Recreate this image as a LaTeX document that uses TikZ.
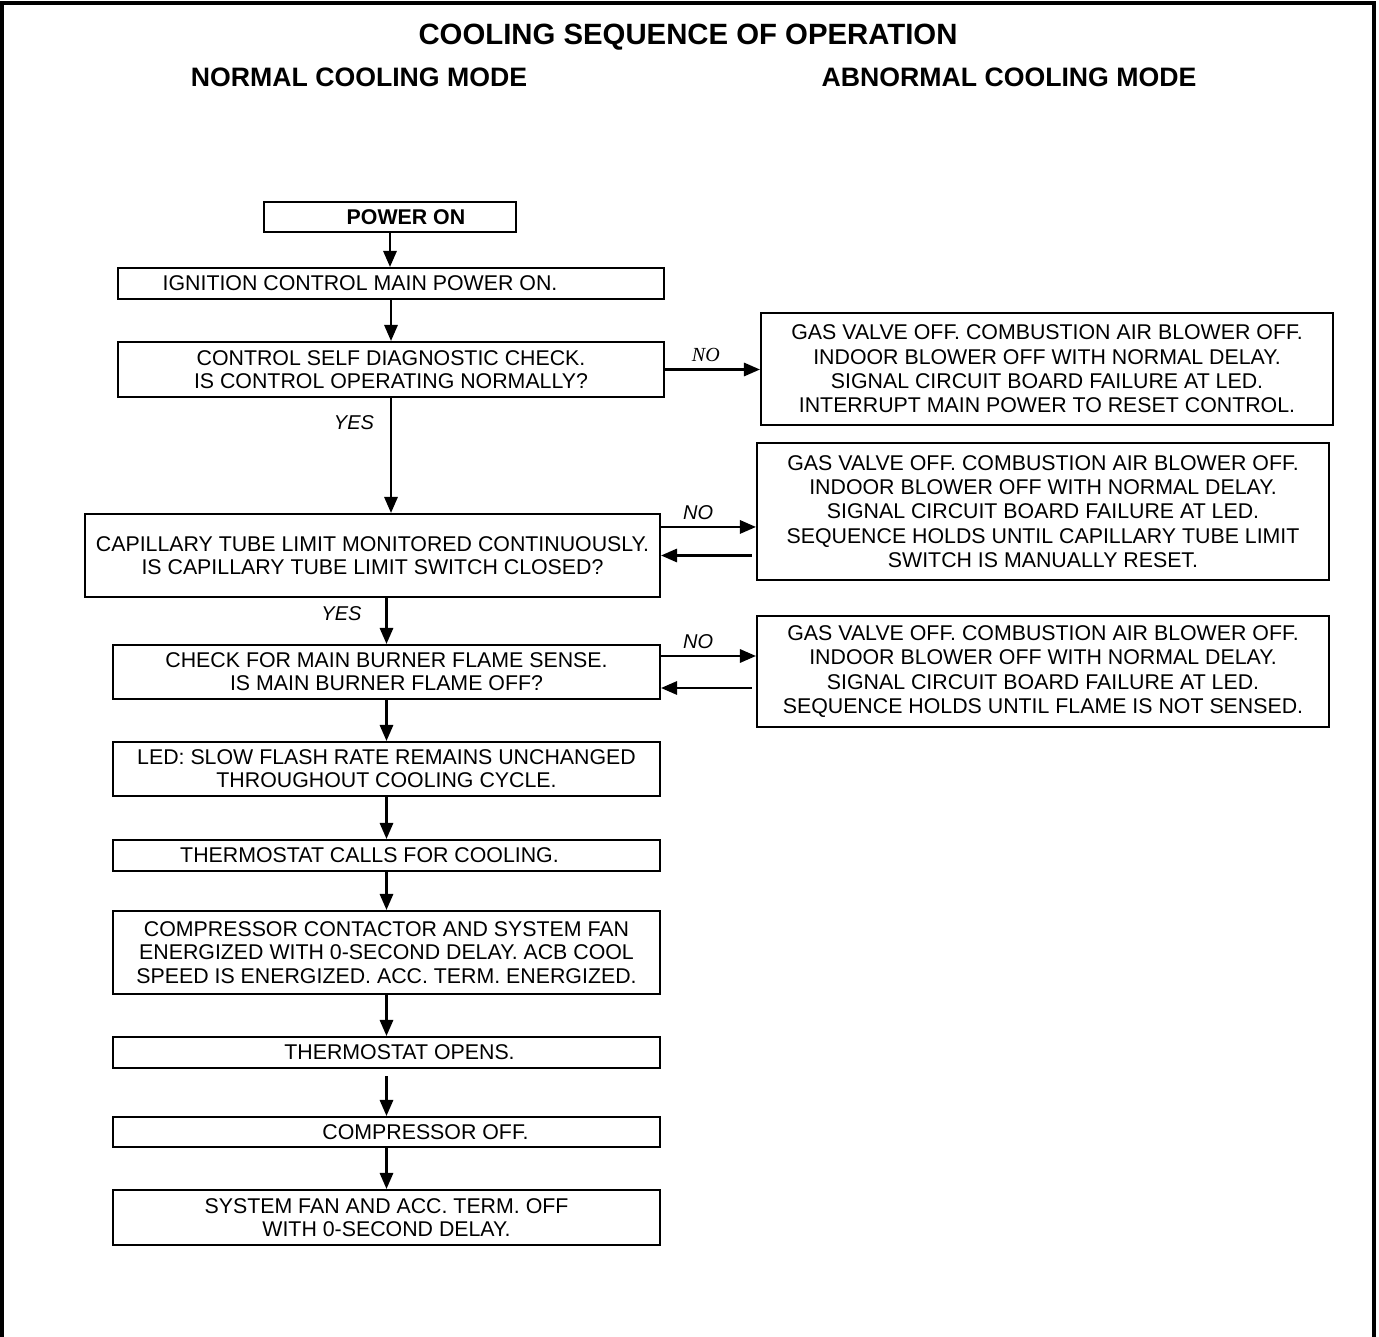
\documentclass[tikz,border=0pt]{standalone}
\usepackage{fontspec}
\setmainfont{Liberation Sans}
\newfontfamily\timesfont{Liberation Serif}
\usepackage{tikz}
\usetikzlibrary{arrows.meta, positioning}
\newcommand{\lpad}[1]{\makebox[#1]{}}

\begin{document}
\begin{tikzpicture}[x=0.75pt, y=-0.75pt,
        block/.style={rectangle, draw, line width=1.6pt, inner sep=0pt,
                      align=center, font=\fontsize{16}{17.4}\selectfont},
        stage/.style={block, minimum width=410.25pt},
        fail/.style={block, minimum width=429pt,
                     font=\fontsize{16}{18.2}\selectfont},
        head/.style={anchor=base, font=\bfseries\fontsize{20}{24}\selectfont},
        lbl/.style={inner sep=2pt, font=\itshape\fontsize{15}{18}\selectfont},
        arr/.style={-{Triangle[length=12pt, width=10pt]}, line width=1.6pt}
    ]
    \useasboundingbox (0,0) rectangle (1379,1337);
    \draw[line width=3pt] (2,1345) -- (2,3) -- (1374,3) -- (1374,1345);

    \node[head, font=\bfseries\fontsize{22}{26}\selectfont] (title) at (688,45) {COOLING SEQUENCE OF OPERATION};
    \node[head] (normal) at (359,87) {NORMAL COOLING MODE};
    \node[head] (abnormal) at (1009,87) {ABNORMAL COOLING MODE};

    % normal cooling mode
    \node[block, minimum width=189pt, minimum height=22.5pt,
          font=\bfseries\fontsize{16}{17.4}\selectfont] (power) at (390,217) {\lpad{24pt}POWER ON};
    \node[block, minimum width=409.5pt, minimum height=23.25pt] (ign) at (391,283.5) {IGNITION CONTROL MAIN POWER ON.\lpad{46.5pt}};
    \node[block, minimum width=409.5pt, minimum height=41.25pt] (ctrl) at (391,369.5) {CONTROL SELF DIAGNOSTIC CHECK.\\IS CONTROL OPERATING NORMALLY?};
    \node[block, minimum width=431.25pt, minimum height=62.25pt] (cap) at (372.5,555.5) {CAPILLARY TUBE LIMIT MONITORED CONTINUOUSLY.\\IS CAPILLARY TUBE LIMIT SWITCH CLOSED?};
    \node[stage, minimum height=40.5pt] (check) at (386.5,672) {CHECK FOR MAIN BURNER FLAME SENSE.\\IS MAIN BURNER FLAME OFF?};
    \node[stage, minimum height=40.5pt] (led) at (386.5,769) {LED: SLOW FLASH RATE REMAINS UNCHANGED\\THROUGHOUT COOLING CYCLE.};
    \node[stage, minimum height=23.25pt] (therm) at (386.5,855.5) {THERMOSTAT CALLS FOR COOLING.\lpad{25.5pt}};
    \node[stage, minimum height=62.25pt] (comp) at (386.5,952.5) {COMPRESSOR CONTACTOR AND SYSTEM FAN\\ENERGIZED WITH 0-SECOND DELAY. ACB COOL\\SPEED IS ENERGIZED. ACC. TERM. ENERGIZED.};
    \node[stage, minimum height=23.25pt] (opens) at (386.5,1052.5) {\lpad{19.5pt}THERMOSTAT OPENS.};
    \node[stage, minimum height=22.5pt] (off) at (386.5,1132) {\lpad{58.5pt}COMPRESSOR OFF.};
    \node[stage, minimum height=41.25pt] (sys) at (386.5,1217.5) {SYSTEM FAN AND ACC. TERM. OFF\\WITH 0-SECOND DELAY.};

    % abnormal cooling mode
    \node[fail, minimum height=84pt] (fail1) at (1047,369) {GAS VALVE OFF. COMBUSTION AIR BLOWER OFF.\\INDOOR BLOWER OFF WITH NORMAL DELAY.\\SIGNAL CIRCUIT BOARD FAILURE AT LED.\\INTERRUPT MAIN POWER TO RESET CONTROL.};
    \node[fail, minimum height=102.75pt] (fail2) at (1043,511.5) {GAS VALVE OFF. COMBUSTION AIR BLOWER OFF.\\INDOOR BLOWER OFF WITH NORMAL DELAY.\\SIGNAL CIRCUIT BOARD FAILURE AT LED.\\SEQUENCE HOLDS UNTIL CAPILLARY TUBE LIMIT\\SWITCH IS MANUALLY RESET.};
    \node[fail, minimum height=83.25pt] (fail3) at (1043,671.5) {GAS VALVE OFF. COMBUSTION AIR BLOWER OFF.\\INDOOR BLOWER OFF WITH NORMAL DELAY.\\SIGNAL CIRCUIT BOARD FAILURE AT LED.\\SEQUENCE HOLDS UNTIL FLAME IS NOT SENSED.};

    \draw[arr] (power.south) -- (power.south |- ign.north);
    \draw[arr] (ign) -- (ctrl);
    \draw[arr] (ctrl.south) -- (ctrl.south |- cap.north) node[lbl, pos=0.21, left=10pt] {YES};
    \draw[arr] (check.north |- cap.south) -- (check.north) node[lbl, pos=0.33, left=16pt] {YES};
    \draw[arr] (check) -- (led);
    \draw[arr] (led) -- (therm);
    \draw[arr] (therm) -- (comp);
    \draw[arr] (comp) -- (opens);
    \draw[arr] ([yshift=-5.25pt]opens.south) -- (off.north);
    \draw[arr] (off) -- (sys);

    \draw[arr] (ctrl.east) -- (ctrl.east -| fail1.west)
        node[lbl, font=\timesfont\itshape\fontsize{15}{18}\selectfont, pos=0.43, above=3pt] {NO};
    \draw[arr] ([yshift=21.4pt]cap.east) -- ([yshift=21.4pt]cap.east -| fail2.west)
        node[lbl, pos=0.39, above=3pt] {NO};
    \draw[arr] ([xshift=-3pt]fail2.west |- cap.east) -- (cap.east);
    \draw[arr] ([yshift=12pt]check.east) -- ([yshift=12pt]check.east -| fail3.west)
        node[lbl, pos=0.39, above=3pt] {NO};
    \draw[arr] ([shift={(-3pt,-12pt)}]fail3.west |- check.east) -- ([yshift=-12pt]check.east);
\end{tikzpicture}
\end{document}
